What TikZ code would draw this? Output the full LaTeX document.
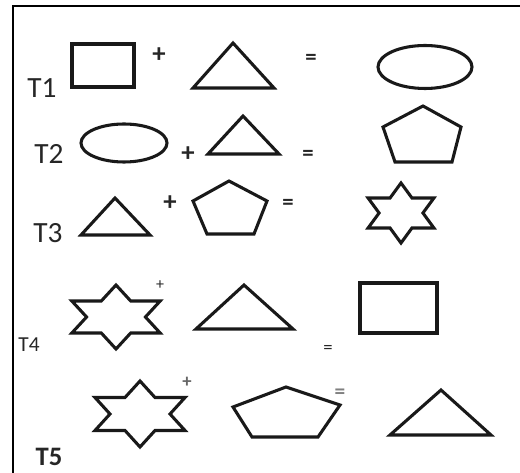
\documentclass[tikz,border=0pt]{standalone}
\usepackage{fontspec}
\setmainfont{Carlito}
\usetikzlibrary{calc}
\tikzset{
    frame line/.style={line width=1.5pt, black},
    figure line/.style={line width=2.3pt, black!90, line join=miter},
    row label/.style={inner sep=0pt, text=black!85},
    op sign/.style={inner sep=0pt, anchor=base, text=black!85}
}
\newcommand{\HexStar}[3]{% centre, x radius, y radius
\draw[figure line]($(#1)+(90:#2 and #3)$)
    \foreach \k in {0,...,4}{
        --($(#1)+({120+60*\k}:{.577*#2} and {.577*#3})$)
        --($(#1)+({150+60*\k}:#2 and #3)$)
    }
    --($(#1)+(420:{.577*#2} and {.577*#3})$)--cycle;
}

\begin{document}
\begin{tikzpicture}[x=.75pt,y=-.75pt]
    \useasboundingbox(0,0)rectangle(520,473);
    % frame
    \coordinate(F0)at(13,6.5);
    \draw[frame line](F0-|520,0)--(F0)--(F0|-0,473);

    % T1
    \node[row label,font=\fontsize{22}{26}\selectfont](t1)at(42,88){T1};
    \draw[figure line](72,44)rectangle(134,87);
    \node[op sign,font=\bfseries\fontsize{20}{22}\selectfont](p1)at(159,63){+};
    \draw[figure line](193,88)--(233,43)--(274,88)--cycle;
    \node[op sign,font=\bfseries\fontsize{17}{19}\selectfont](e1)at(311,65){=};
    \coordinate(E1)at(425,67);
    \draw[figure line](E1)ellipse[x radius=47,y radius=21.5];

    % T2
    \node[row label,font=\fontsize{22}{26}\selectfont](t2)at(49,154){T2};
    \coordinate(E2)at(124,143);
    \draw[figure line](E2)ellipse[x radius=43,y radius=19];
    \node[op sign,font=\bfseries\fontsize{20}{22}\selectfont](p2)at(188,162){+};
    \draw[figure line](208,154)--(243,116)--(279,154)--cycle;
    \node[op sign,font=\bfseries\fontsize{17}{19}\selectfont](e2)at(308,161){=};
    \draw[figure line](423,106)--(461,127)--(452,162)--(395,162)--(383,127)--cycle;

    % T3
    \node[row label,font=\fontsize{22}{26}\selectfont](t3)at(48,233){T3};
    \draw[figure line](81,235)--(115,198)--(150,235)--cycle;
    \node[op sign,font=\bfseries\fontsize{20}{22}\selectfont](p3)at(170,211){+};
    \draw[figure line](229,181)--(267,201)--(254,234)--(207,234)--(193,201)--cycle;
    \node[op sign,font=\bfseries\fontsize{17}{19}\selectfont](e3)at(288,210){=};
    \coordinate(S3)at(401,213);
    \HexStar{S3}{38}{30}

    % T4
    \node[row label,font=\fontsize{16}{19}\selectfont](t4)at(29,345){T4};
    \coordinate(S4)at(116,317);
    \HexStar{S4}{51}{32}
    \node[op sign,font=\fontsize{12}{14}\selectfont](p4)at(160,290){+};
    \draw[figure line](196,329)--(244,285)--(293,329)--cycle;
    \node[op sign,font=\fontsize{14}{16}\selectfont](e4)at(328,353){=};
    \draw[figure line](360,283)rectangle(437,333);

    % T5
    \node[row label,font=\bfseries\fontsize{20}{24}\selectfont](t5)at(49,457){T5};
    \coordinate(S5)at(140,414);
    \HexStar{S5}{52}{33}
    \node[op sign,text=black!60,font=\bfseries\fontsize{14}{16}\selectfont](p5)at(187,387){+};
    \draw[figure line](286,387)--(340,405)--(318,437)--(252,437)--(233,407)--cycle;
    \node[op sign,text=black!50,font=\bfseries\fontsize{16}{18}\selectfont](e5)at(340,398){=};
    \draw[figure line](390,435)--(441,390)--(491,435)--cycle;
\end{tikzpicture}
\end{document}
